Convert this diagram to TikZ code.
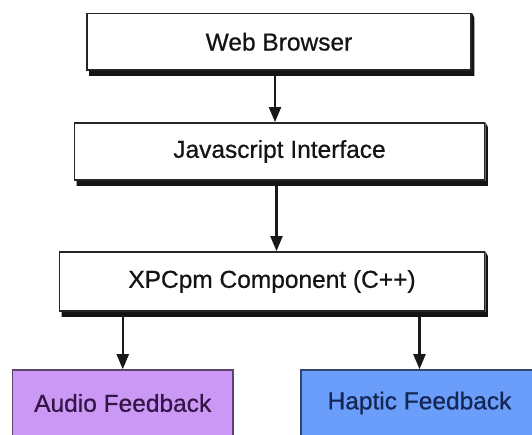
\documentclass[tikz,border=0pt]{standalone}
\usepackage{fontspec}
\setmainfont{Liberation Sans}
\newfontfamily\labelfont{Liberation Sans}[FakeBold=0.6]
\usetikzlibrary{arrows.meta}
\definecolor{audiofill}{RGB}{204,152,246}
\definecolor{hapticfill}{RGB}{106,158,250}
\definecolor{audiotext}{RGB}{52,22,70}
\definecolor{haptictext}{RGB}{22,38,84}
\begin{document}
\begin{tikzpicture}[x=1pt,y=-1pt,
  layerbox/.style={draw=black!85, line width=1.8pt, fill=white, inner sep=0pt,
    font=\labelfont\fontsize{24.5}{28}\selectfont, text=black!92},
  outbox/.style={line width=1.6pt, inner sep=0pt, font=\labelfont\fontsize{24.5}{28}\selectfont},
  boxshadow/.style={fill=black!92},
  arr/.style={-{Triangle[length=15pt,width=12pt]}, line width=2.2pt, draw=black!90}]
\path[use as bounding box, clip] (0,0) rectangle (532,435);
% software layers
\node[layerbox, minimum width=384pt, minimum height=56.5pt] (wb) at (279,41.75) {Web Browser};
\node[layerbox, minimum width=410pt, minimum height=57pt] (js) at (279.5,151.5) {Javascript Interface};
\node[layerbox, minimum width=425pt, minimum height=59pt] (xpc) at (272,281.5) {XPCpm Component (C++)};
% drop shadows along the bottom and right edges of each layer
\foreach \b in {wb,js,xpc}{
  \fill[boxshadow] ([xshift=3pt]\b.south west) -- ([xshift=3pt,yshift=-5pt]\b.south west)
    -- ([xshift=2.5pt,yshift=-5pt]\b.south east) -- ([xshift=2.5pt,yshift=-5pt]\b.north east)
    -- (\b.north east) -- (\b.south east) -- cycle;
}
% output channels
\node[outbox, draw=audiofill!45!black, fill=audiofill, text=audiotext,
  minimum width=220.5pt, minimum height=66pt] (aud) at (122.75,403) {Audio Feedback};
\node[outbox, draw=hapticfill!45!black, fill=hapticfill, text=haptictext,
  minimum width=237pt, minimum height=66pt] (hap) at (419.5,403) {Haptic Feedback};
% connectors
\draw[arr] ([xshift=-4pt, yshift=-5pt]wb.south) -- ([xshift=-4pt]wb.south |- js.north);
\draw[arr] ([xshift=-3pt, yshift=-5pt]js.south) -- ([xshift=-3pt]js.south |- xpc.north);
\draw[arr] ([yshift=-5pt]xpc.south -| aud.north) -- (aud.north);
\draw[arr] ([yshift=-5pt]xpc.south -| hap.north) -- (hap.north);
\end{tikzpicture}
\end{document}
